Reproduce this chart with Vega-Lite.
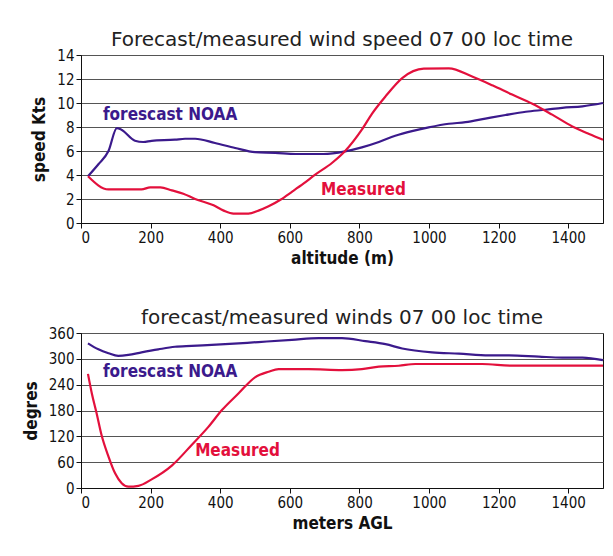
{
  "$schema": "https://vega.github.io/schema/vega-lite/v6.json",
  "background": "white",
  "padding": {"left": 21, "top": 29, "right": 4, "bottom": 10},
  "spacing": 40,
  "datasets": {
    "speed": [
      {"alt": 20, "v": 3.9, "s": "forecast"},
      {"alt": 50, "v": 4.9, "s": "forecast"},
      {"alt": 79, "v": 6.0, "s": "forecast"},
      {"alt": 103, "v": 7.9, "s": "forecast"},
      {"alt": 115, "v": 7.8, "s": "forecast"},
      {"alt": 155, "v": 6.86, "s": "forecast"},
      {"alt": 179, "v": 6.75, "s": "forecast"},
      {"alt": 203, "v": 6.85, "s": "forecast"},
      {"alt": 270, "v": 6.94, "s": "forecast"},
      {"alt": 299, "v": 7.02, "s": "forecast"},
      {"alt": 328, "v": 7.02, "s": "forecast"},
      {"alt": 385, "v": 6.67, "s": "forecast"},
      {"alt": 443, "v": 6.25, "s": "forecast"},
      {"alt": 500, "v": 5.9, "s": "forecast"},
      {"alt": 558, "v": 5.85, "s": "forecast"},
      {"alt": 616, "v": 5.75, "s": "forecast"},
      {"alt": 697, "v": 5.75, "s": "forecast"},
      {"alt": 759, "v": 5.97, "s": "forecast"},
      {"alt": 807, "v": 6.3, "s": "forecast"},
      {"alt": 856, "v": 6.75, "s": "forecast"},
      {"alt": 903, "v": 7.27, "s": "forecast"},
      {"alt": 951, "v": 7.66, "s": "forecast"},
      {"alt": 999, "v": 7.97, "s": "forecast"},
      {"alt": 1057, "v": 8.27, "s": "forecast"},
      {"alt": 1105, "v": 8.4, "s": "forecast"},
      {"alt": 1162, "v": 8.7, "s": "forecast"},
      {"alt": 1220, "v": 9.0, "s": "forecast"},
      {"alt": 1278, "v": 9.27, "s": "forecast"},
      {"alt": 1335, "v": 9.44, "s": "forecast"},
      {"alt": 1383, "v": 9.6, "s": "forecast"},
      {"alt": 1441, "v": 9.72, "s": "forecast"},
      {"alt": 1500, "v": 10.0, "s": "forecast"},
      {"alt": 20, "v": 3.9, "s": "measured"},
      {"alt": 79, "v": 2.8, "s": "measured"},
      {"alt": 127, "v": 2.8, "s": "measured"},
      {"alt": 174, "v": 2.8, "s": "measured"},
      {"alt": 199, "v": 2.97, "s": "measured"},
      {"alt": 228, "v": 2.97, "s": "measured"},
      {"alt": 261, "v": 2.72, "s": "measured"},
      {"alt": 294, "v": 2.44, "s": "measured"},
      {"alt": 328, "v": 2.0, "s": "measured"},
      {"alt": 381, "v": 1.47, "s": "measured"},
      {"alt": 410, "v": 1.03, "s": "measured"},
      {"alt": 438, "v": 0.78, "s": "measured"},
      {"alt": 481, "v": 0.78, "s": "measured"},
      {"alt": 510, "v": 1.03, "s": "measured"},
      {"alt": 539, "v": 1.39, "s": "measured"},
      {"alt": 573, "v": 1.94, "s": "measured"},
      {"alt": 606, "v": 2.6, "s": "measured"},
      {"alt": 640, "v": 3.3, "s": "measured"},
      {"alt": 673, "v": 4.03, "s": "measured"},
      {"alt": 721, "v": 5.0, "s": "measured"},
      {"alt": 759, "v": 6.0, "s": "measured"},
      {"alt": 807, "v": 7.78, "s": "measured"},
      {"alt": 836, "v": 9.1, "s": "measured"},
      {"alt": 875, "v": 10.55, "s": "measured"},
      {"alt": 923, "v": 12.08, "s": "measured"},
      {"alt": 985, "v": 12.86, "s": "measured"},
      {"alt": 1057, "v": 12.89, "s": "measured"},
      {"alt": 1124, "v": 12.2, "s": "measured"},
      {"alt": 1182, "v": 11.47, "s": "measured"},
      {"alt": 1239, "v": 10.7, "s": "measured"},
      {"alt": 1297, "v": 9.94, "s": "measured"},
      {"alt": 1354, "v": 9.03, "s": "measured"},
      {"alt": 1412, "v": 8.05, "s": "measured"},
      {"alt": 1460, "v": 7.42, "s": "measured"},
      {"alt": 1500, "v": 6.94, "s": "measured"}
    ],
    "dir": [
      {"alt": 20, "v": 336, "s": "forecast"},
      {"alt": 50, "v": 322, "s": "forecast"},
      {"alt": 79, "v": 313, "s": "forecast"},
      {"alt": 107, "v": 307, "s": "forecast"},
      {"alt": 136, "v": 309, "s": "forecast"},
      {"alt": 174, "v": 315, "s": "forecast"},
      {"alt": 222, "v": 322, "s": "forecast"},
      {"alt": 270, "v": 328, "s": "forecast"},
      {"alt": 318, "v": 330, "s": "forecast"},
      {"alt": 414, "v": 334, "s": "forecast"},
      {"alt": 510, "v": 339, "s": "forecast"},
      {"alt": 606, "v": 344, "s": "forecast"},
      {"alt": 683, "v": 348, "s": "forecast"},
      {"alt": 750, "v": 348, "s": "forecast"},
      {"alt": 817, "v": 341, "s": "forecast"},
      {"alt": 875, "v": 334, "s": "forecast"},
      {"alt": 923, "v": 324, "s": "forecast"},
      {"alt": 1009, "v": 315, "s": "forecast"},
      {"alt": 1086, "v": 312, "s": "forecast"},
      {"alt": 1172, "v": 308, "s": "forecast"},
      {"alt": 1230, "v": 308, "s": "forecast"},
      {"alt": 1316, "v": 305, "s": "forecast"},
      {"alt": 1383, "v": 303, "s": "forecast"},
      {"alt": 1441, "v": 303, "s": "forecast"},
      {"alt": 1500, "v": 297, "s": "forecast"},
      {"alt": 20, "v": 265, "s": "measured"},
      {"alt": 31, "v": 220, "s": "measured"},
      {"alt": 45, "v": 173, "s": "measured"},
      {"alt": 59, "v": 123, "s": "measured"},
      {"alt": 79, "v": 73, "s": "measured"},
      {"alt": 98, "v": 34, "s": "measured"},
      {"alt": 117, "v": 11, "s": "measured"},
      {"alt": 136, "v": 3, "s": "measured"},
      {"alt": 165, "v": 5, "s": "measured"},
      {"alt": 203, "v": 20, "s": "measured"},
      {"alt": 261, "v": 52, "s": "measured"},
      {"alt": 318, "v": 100, "s": "measured"},
      {"alt": 366, "v": 142, "s": "measured"},
      {"alt": 405, "v": 181, "s": "measured"},
      {"alt": 453, "v": 220, "s": "measured"},
      {"alt": 500, "v": 257, "s": "measured"},
      {"alt": 539, "v": 270, "s": "measured"},
      {"alt": 568, "v": 276, "s": "measured"},
      {"alt": 654, "v": 276, "s": "measured"},
      {"alt": 750, "v": 274, "s": "measured"},
      {"alt": 807, "v": 276, "s": "measured"},
      {"alt": 856, "v": 282, "s": "measured"},
      {"alt": 913, "v": 284, "s": "measured"},
      {"alt": 961, "v": 288, "s": "measured"},
      {"alt": 1057, "v": 288, "s": "measured"},
      {"alt": 1153, "v": 288, "s": "measured"},
      {"alt": 1239, "v": 284, "s": "measured"},
      {"alt": 1393, "v": 284, "s": "measured"},
      {"alt": 1500, "v": 284, "s": "measured"}
    ]
  },
  "vconcat": [
    {
      "width": 522,
      "height": 168,
      "title": {"text": "Forecast/measured wind speed 07 00 loc time", "font": "DejaVu Sans", "fontSize": 20, "fontWeight": "normal", "color": "#222", "offset": -2},
      "encoding": {
        "x": {"field": "alt", "type": "quantitative", "scale": {"domain": [0, 1500], "nice": false}, "axis": {"values": [0, 200, 400, 600, 800, 1000, 1200, 1400], "format": "d", "title": "altitude (m)"}},
        "y": {"field": "v", "type": "quantitative", "scale": {"domain": [0, 14], "nice": false}, "axis": {"values": [0, 2, 4, 6, 8, 10, 12, 14], "format": "d", "title": "speed Kts"}},
        "color": {"field": "s", "type": "nominal", "scale": {"domain": ["forecast", "measured"], "range": ["#3b1a8c", "#e3103c"]}, "legend": null}
      },
      "layer": [
        {
          "data": {"name": "speed"},
          "mark": {"type": "line", "strokeWidth": 2.2, "interpolate": "monotone"}
        },
        {
          "data": {"values": [
            {"alt": 63, "v": 9.0, "s": "forecast", "t": "forescast NOAA"},
            {"alt": 690, "v": 2.75, "s": "measured", "t": "Measured"}
          ]},
          "mark": {"type": "text", "align": "left", "baseline": "middle", "font": "DejaVu Sans Condensed", "fontWeight": "bold", "fontSize": 17},
          "encoding": {"text": {"field": "t"}}
        }
      ]
    },
    {
      "width": 522,
      "height": 155,
      "title": {"text": "forecast/measured winds 07 00 loc time", "font": "DejaVu Sans", "fontSize": 20, "fontWeight": "normal", "color": "#222", "offset": -2},
      "encoding": {
        "x": {"field": "alt", "type": "quantitative", "scale": {"domain": [0, 1500], "nice": false}, "axis": {"values": [0, 200, 400, 600, 800, 1000, 1200, 1400], "format": "d", "title": "meters AGL"}},
        "y": {"field": "v", "type": "quantitative", "scale": {"domain": [0, 360], "nice": false}, "axis": {"values": [0, 60, 120, 180, 240, 300, 360], "format": "d", "title": "degres"}},
        "color": {"field": "s", "type": "nominal", "scale": {"domain": ["forecast", "measured"], "range": ["#3b1a8c", "#e3103c"]}, "legend": null}
      },
      "layer": [
        {
          "data": {"name": "dir"},
          "mark": {"type": "line", "strokeWidth": 2.2, "interpolate": "monotone"}
        },
        {
          "data": {"values": [
            {"alt": 63, "v": 270, "s": "forecast", "t": "forescast NOAA"},
            {"alt": 328, "v": 85, "s": "measured", "t": "Measured"}
          ]},
          "mark": {"type": "text", "align": "left", "baseline": "middle", "font": "DejaVu Sans Condensed", "fontWeight": "bold", "fontSize": 17},
          "encoding": {"text": {"field": "t"}}
        }
      ]
    }
  ],
  "config": {
    "view": {"stroke": "#111", "strokeWidth": 1},
    "axis": {
      "labelFont": "DejaVu Sans Condensed",
      "labelFontSize": 15,
      "labelColor": "#111",
      "labelOverlap": false,
      "titleFont": "DejaVu Sans Condensed",
      "titleFontSize": 17,
      "titleFontWeight": "bold",
      "titleColor": "#111",
      "domainColor": "#111",
      "tickColor": "#111",
      "tickSize": 5,
      "gridColor": "#555",
      "gridOpacity": 1,
      "labelPadding": 2
    },
    "axisX": {"titlePadding": 5, "grid": false},
    "axisY": {"titlePadding": 8, "grid": true}
  }
}
